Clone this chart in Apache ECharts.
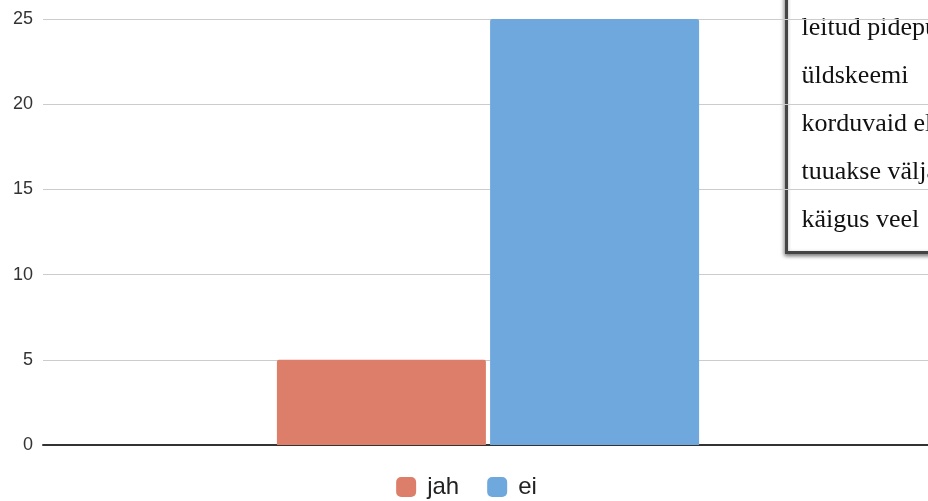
<!DOCTYPE html>
<html>
<head>
<meta charset="utf-8">
<script src="https://cdn.jsdelivr.net/npm/echarts@6/dist/echarts.min.js"></script>
<style>
  html, body { margin: 0; padding: 0; background: #fff; overflow: hidden; }
  #chart { width: 933px; height: 501px; }
</style>
</head>
<body>
<div id="chart"></div>
<script>
const categories = [""];
const jahValues = [5];
const eiValues = [25];
const yTicks = [0, 5, 10, 15, 20, 25];
const noteLines = ["leitud pidepunktid", "üldskeemi", "korduvaid elemente", "tuuakse välja", "käigus veel"];

const chart = echarts.init(document.getElementById("chart"));

chart.setOption({
  animation: false,
  grid: {
    top: 19,
    left: 43,
    right: 0,
    bottom: 56,
    containLabel: false,
  },
  legend: {
    bottom: -3,
    left: "center",
    itemWidth: 20,
    itemHeight: 20,
    itemGap: 28,
    icon: "roundRect",
    textStyle: {
      fontFamily: "Arial, Liberation Sans",
      fontSize: 24,
      color: "#222",
      padding: [0, 0, 0, 6],
    },
    data: ["jah", "ei"],
  },
  xAxis: {
    type: "category",
    data: categories,
    axisLine: { lineStyle: { color: "#333", width: 2 } },
    axisTick: { show: false },
    axisLabel: { show: false },
  },
  yAxis: {
    type: "value",
    min: yTicks[0],
    max: yTicks[yTicks.length - 1],
    interval: 5,
    axisLine: { show: false },
    axisTick: { show: false },
    axisLabel: { fontFamily: "Arial, Liberation Sans", fontSize: 18, color: "#333", margin: 10 },
    splitLine: { lineStyle: { color: "#ccc", width: 1 } },
  },
  series: [
    {
      name: "jah",
      type: "bar",
      data: jahValues,
      barWidth: 209,
      barGap: "2%",
      itemStyle: { color: "#dd7e6b", borderRadius: [2, 2, 0, 0] },
    },
    {
      name: "ei",
      type: "bar",
      data: eiValues,
      barWidth: 209,
      barGap: "2%",
      itemStyle: { color: "#6fa8dc", borderRadius: [2, 2, 0, 0] },
    },
  ],
  graphic: [
    {
      type: "group",
      left: 785,
      top: -10,
      z: 100,
      children: [
        {
          type: "rect",
          shape: { x: 0, y: 0, width: 200, height: 261 },
          style: {
            fill: "#fff",
            stroke: "#444",
            lineWidth: 3,
            shadowBlur: 4,
            shadowColor: "rgba(0,0,0,0.45)",
            shadowOffsetX: -1,
            shadowOffsetY: 2,
          },
        },
      ].concat(noteLines.map((t, i) => ({
        type: "text",
        x: 15,
        y: 37 + i * 48,
        style: {
          text: t,
          fontFamily: "Liberation Serif, Times New Roman, serif",
          fontSize: 26,
          fill: "#111",
          verticalAlign: "middle",
        },
      }))),
    },
  ],
});
</script>
</body>
</html>
